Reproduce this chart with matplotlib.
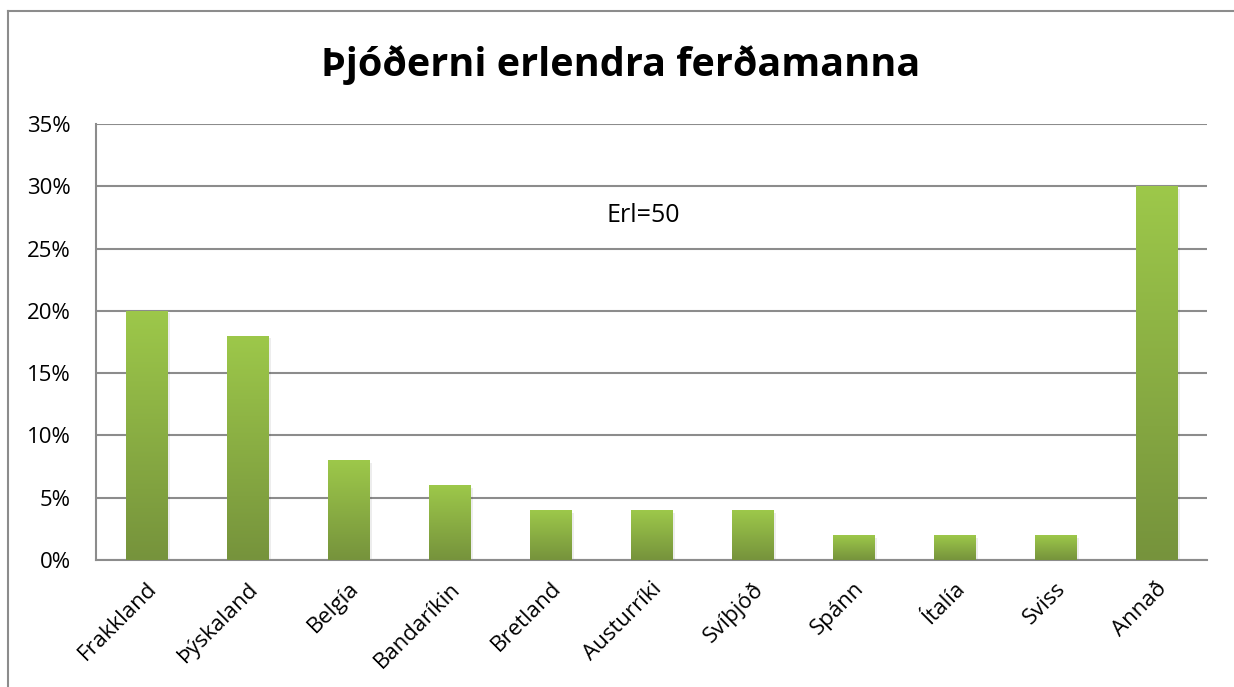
import matplotlib
matplotlib.use("Agg")
import matplotlib.pyplot as plt
import numpy as np
from matplotlib.patches import Rectangle
from matplotlib.lines import Line2D
from matplotlib.colors import LinearSegmentedColormap

categories = ["Frakkland", "Þýskaland", "Belgía", "Bandaríkin", "Bretland",
              "Austurríki", "Svíþjóð", "Spánn", "Ítalía", "Sviss", "Annað"]
values = [20, 18, 8, 6, 4, 4, 4, 2, 2, 2, 30]
yticks = [0, 5, 10, 15, 20, 25, 30, 35]
title = "Þjóðerni erlendra ferðamanna"
note = "Erl=50"

plt.rcParams['font.family'] = ['Open Sans', 'DejaVu Sans']

W, H = 1234, 687
fig = plt.figure(figsize=(W/100, H/100), dpi=100)
# outer chart frame (left and top edges visible)
fig.add_artist(Line2D([8/W, 8/W], [0, 1 - 11/H], transform=fig.transFigure,
                      color='#8c8c8c', linewidth=1.5))
fig.add_artist(Line2D([8/W, 1], [1 - 11/H, 1 - 11/H], transform=fig.transFigure,
                      color='#8c8c8c', linewidth=1.5))

ax = fig.add_axes([96/W, 1-560/H, (1207-96)/W, (560-124)/H])
x = np.arange(len(categories))
width = 0.41
cmap = LinearSegmentedColormap.from_list("g", ["#76933c", "#9dc84a"])
grad = np.linspace(0, 1, 256).reshape(-1, 1)

for xi, v in zip(x, values):
    sh = Rectangle((xi - width/2 + 0.03, -0.2), width, v, facecolor='#000000',
                   alpha=0.07, edgecolor='none', zorder=2)
    ax.add_patch(sh)
    bar = ax.bar(xi, v, width=width, color='none', edgecolor='none', zorder=3)[0]
    im = ax.imshow(grad, extent=(xi - width/2, xi + width/2, 0, v), origin='lower',
                   cmap=cmap, aspect='auto', zorder=3)
    im.set_clip_path(bar)

ax.set_aspect('auto')
ax.set_xlim(-0.5, len(categories) - 0.5)
ax.set_ylim(0, 35)

ax.set_yticks(yticks)
ax.set_yticklabels([f"{t}%" for t in yticks], fontsize=16)
ax.yaxis.grid(True, color='#8c8c8c', linewidth=1.5, zorder=1)
ax.set_axisbelow(True)
ax.set_xticks(x)
ax.set_xticklabels(categories, rotation=45, ha='right', rotation_mode='anchor', fontsize=16)
ax.tick_params(axis='x', length=0, pad=13)
ax.tick_params(axis='y', length=0, pad=18)

for s in ['top', 'right']:
    ax.spines[s].set_visible(False)
ax.spines['left'].set_color('#8c8c8c')
ax.spines['left'].set_linewidth(1.5)
ax.spines['bottom'].set_color('#8c8c8c')
ax.spines['bottom'].set_linewidth(1.5)

ax.text((643-96)/1111, (560-216)/436, note, transform=ax.transAxes, fontsize=18,
        ha='center', va='center')
fig.text(621/W, 1 - 65/H, title, fontsize=28.5, fontweight='bold', ha='center', va='center')

fig.savefig("out.png", dpi=100)
